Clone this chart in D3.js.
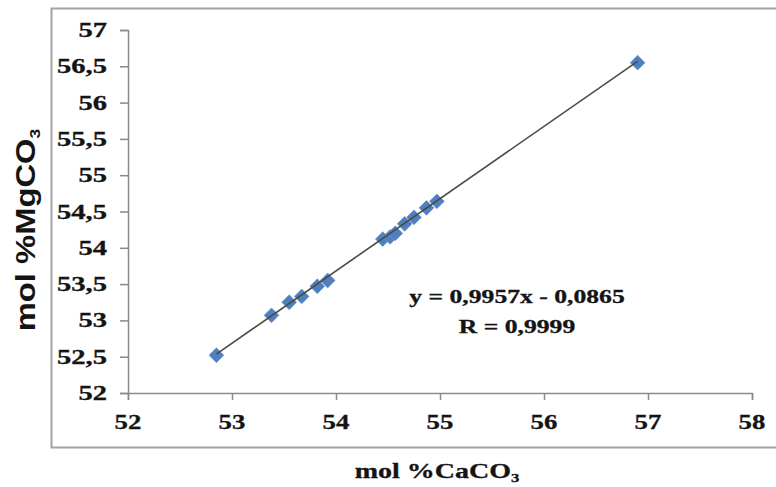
<!DOCTYPE html>
<html>
<head>
<meta charset="utf-8">
<script src="https://cdn.jsdelivr.net/npm/d3@7"></script>
<style>
  body { margin: 0; background: #fff; }
  svg { display: block; }
</style>
</head>
<body>
<div id="chart"></div>
<script>
// data
const caco3 = [52.85, 53.38, 53.55, 53.67, 53.82, 53.92, 54.45, 54.52, 54.57, 54.66, 54.75, 54.87, 54.97, 56.9];
const mgco3 = [52.52, 53.07, 53.25, 53.33, 53.47, 53.55, 54.12, 54.15, 54.2, 54.33, 54.42, 54.55, 54.64, 56.55];
const xTicks = [52, 53, 54, 55, 56, 57, 58];
const yTicks = [52, 52.5, 53, 53.5, 54, 54.5, 55, 55.5, 56, 56.5, 57];
const slope = 0.9957, intercept = -0.0865;
const eqLines = ["y = 0,9957x - 0,0865", "R = 0,9999"];

const w = 776, h = 487;
const serif = "'Liberation Serif', 'Times New Roman', serif";
const sans = "'Liberation Sans', Arial, sans-serif";
const axisGrey = "#8a8a8a";

var svg = d3.select("#chart").append("svg")
  .attr("width", w)
  .attr("height", h);

// chart area border
svg.append("rect")
  .attr("x", 51.5).attr("y", 8.5)
  .attr("width", 780).attr("height", 439)
  .style("fill", "none")
  .style("stroke", "#a3a3a3")
  .style("stroke-width", 2);

var x = d3.scaleLinear().domain([52, 58]).range([128, 752]);
var y = d3.scaleLinear().domain([52, 57]).range([393, 30]);

const comma = (d) => String(d).replace(".", ",");

// stretched text helper (the source fonts are wide and heavy)
function label(g, tx, ty, txt, size, sx, anchor, fam) {
  return g.append("text")
    .attr("transform", "translate(" + tx + "," + ty + ") scale(" + sx + ",1)")
    .attr("text-anchor", anchor)
    .style("font-family", fam || serif)
    .style("font-weight", "bold")
    .style("font-size", size + "px")
    .style("fill", "#141414")
    .style("stroke", "#141414")
    .style("stroke-width", 0.3)
    .text(txt);
}

// axes
var gx = svg.append("g")
  .attr("transform", "translate(0," + 393 + ")")
  .call(d3.axisBottom(x).tickValues(xTicks).tickSize(7).tickSizeOuter(7).tickFormat(() => ""));
var gy = svg.append("g")
  .attr("transform", "translate(" + 128 + ",0)")
  .call(d3.axisLeft(y).tickValues(yTicks).tickSize(8).tickSizeOuter(8).tickFormat(() => ""));
[gx, gy].forEach((g) => {
  g.selectAll("path, line").style("stroke", axisGrey).style("stroke-width", 1.5);
  g.selectAll("text").remove();
});

// tick labels
var gl = svg.append("g");
xTicks.forEach((d) => label(gl, x(d), 429, comma(d), 22, 1.22, "middle"));
yTicks.forEach((d) => label(gl, 107, y(d) + 7, comma(d), 21, 1.36, "end"));

// points
var pts = caco3.map((c, i) => ({ x: c, y: mgco3[i] }));
svg.append("g").selectAll("path")
  .data(pts)
  .enter()
  .append("path")
  .attr("d", d3.symbol(d3.symbolSquare, 110))
  .attr("transform", (d) => "translate(" + x(d.x) + "," + y(d.y) + ") rotate(45)")
  .style("fill", "#4f7fbf")
  .style("stroke", "#6a91c8")
  .style("stroke-width", 0.6);

// linear trendline on top
var x0 = d3.min(caco3), x1 = d3.max(caco3);
svg.append("line")
  .attr("x1", x(x0)).attr("y1", y(slope * x0 + intercept))
  .attr("x2", x(x1)).attr("y2", y(slope * x1 + intercept))
  .style("stroke", "#4a4a44")
  .style("stroke-width", 1.6);

// equation
label(svg, 517, 303, eqLines[0], 19, 1.35, "middle");
label(svg, 517, 333, eqLines[1], 19, 1.35, "middle");

// axis titles
var xt = label(svg, 437, 478, "mol %CaCO", 20, 1.4, "middle");
xt.append("tspan").attr("dy", 4).style("font-size", "12px").text("3");

var yt = svg.append("text")
  .attr("transform", "translate(35,230) rotate(-90) scale(1.17,1)")
  .attr("text-anchor", "middle")
  .style("font-family", sans)
  .style("font-weight", "bold")
  .style("font-size", "28px")
  .style("fill", "#141414")
  .text("mol %MgCO");
yt.append("tspan").attr("dy", 5).style("font-size", "15px").text("3");
</script>
</body>
</html>
